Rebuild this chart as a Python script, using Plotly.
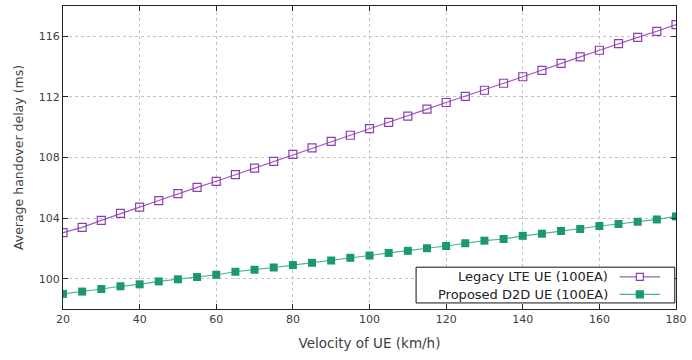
import plotly.graph_objects as go

velocity = [20, 25, 30, 35, 40, 45, 50, 55, 60, 65, 70, 75, 80, 85, 90, 95, 100,
            105, 110, 115, 120, 125, 130, 135, 140, 145, 150, 155, 160, 165, 170, 175, 180]
legacy_lte = [103.04, 103.39, 103.85, 104.31, 104.72, 105.16, 105.62, 106.03, 106.43, 106.87,
              107.30, 107.74, 108.20, 108.64, 109.07, 109.47, 109.90, 110.32, 110.73, 111.19,
              111.63, 112.04, 112.44, 112.90, 113.33, 113.75, 114.21, 114.64, 115.08, 115.52,
              115.93, 116.33, 116.77]
proposed_d2d = [99.00, 99.15, 99.32, 99.50, 99.63, 99.82, 99.96, 100.11, 100.26, 100.46,
                100.59, 100.74, 100.90, 101.05, 101.20, 101.38, 101.53, 101.70, 101.84, 102.01,
                102.16, 102.34, 102.51, 102.62, 102.83, 102.97, 103.15, 103.28, 103.48, 103.61,
                103.76, 103.91, 104.11]
series_names = ["Legacy LTE UE (100EA)", "Proposed D2D UE (100EA)"]
x_ticks = [20, 40, 60, 80, 100, 120, 140, 160, 180]
y_ticks = [100, 104, 108, 112, 116]

purple_line = "#9c5cbb"
purple_mark = "#8a3fb0"
green_line = "#4bb591"
green_mark = "#1a9870"
FONT = "DejaVu Sans"
TXT = "#404040"

fig = go.Figure()
fig.add_trace(go.Scatter(
    x=velocity, y=legacy_lte, mode="lines+markers", name=series_names[0],
    line=dict(color=purple_line, width=1.2),
    marker=dict(symbol="square-open", size=8, color=purple_mark, line=dict(width=1.2, color=purple_mark)),
    showlegend=False))
fig.add_trace(go.Scatter(
    x=velocity, y=proposed_d2d, mode="lines+markers", name=series_names[1],
    line=dict(color=green_line, width=1.2),
    marker=dict(symbol="square", size=8, color=green_mark, line=dict(width=0)),
    showlegend=False))

axis_common = dict(
    showline=True, linecolor="#222222", linewidth=1, mirror="ticks",
    ticks="inside", ticklen=5, tickcolor="#222222", tickwidth=1,
    showgrid=True, gridcolor="#c4c4c4", griddash="dot", gridwidth=1,
    zeroline=False, tickfont=dict(family=FONT, size=11, color=TXT),
)
fig.update_xaxes(range=[20, 180], tickvals=x_ticks,
                 title=dict(text="Velocity of UE (km/h)", font=dict(family=FONT, size=13.5, color=TXT), standoff=13),
                 **axis_common)
fig.update_yaxes(range=[98, 118], tickvals=y_ticks,
                 title=dict(text="Average handover delay (ms)", font=dict(family=FONT, size=12.5, color=TXT), standoff=12),
                 **axis_common)

# gnuplot-style legend box (text right, sample left->right)
shapes = [dict(type="rect", xref="paper", yref="paper", x0=0.576, x1=0.998, y0=0.02, y1=0.138,
               line=dict(color="#111111", width=1), fillcolor="white", layer="above")]
rows = [(0.106, purple_line, purple_mark, False), (0.048, green_line, green_mark, True)]
annotations = []
for (yp, lc, mc, filled), name in zip(rows, series_names):
    annotations.append(dict(xref="paper", yref="paper", x=0.893, y=yp, text=name, showarrow=False,
                            xanchor="right", yanchor="middle",
                            font=dict(family=FONT, size=13, color="#222222")))
    shapes.append(dict(type="line", xref="paper", yref="paper", x0=0.908, x1=0.974, y0=yp, y1=yp,
                       line=dict(color=lc, width=1.2), layer="above"))
    dx, dy = 3.5 / 616, 3.5 / 304
    shapes.append(dict(type="rect", xref="paper", yref="paper", x0=0.941 - dx, x1=0.941 + dx,
                       y0=yp - dy, y1=yp + dy, line=dict(color=mc, width=1.2),
                       fillcolor=mc if filled else "white", layer="above"))

fig.update_layout(
    width=692, height=360, margin=dict(l=63, r=13, t=5, b=51),
    paper_bgcolor="white", plot_bgcolor="white",
    shapes=shapes, annotations=annotations, showlegend=False,
)
fig.write_html("out.html")
